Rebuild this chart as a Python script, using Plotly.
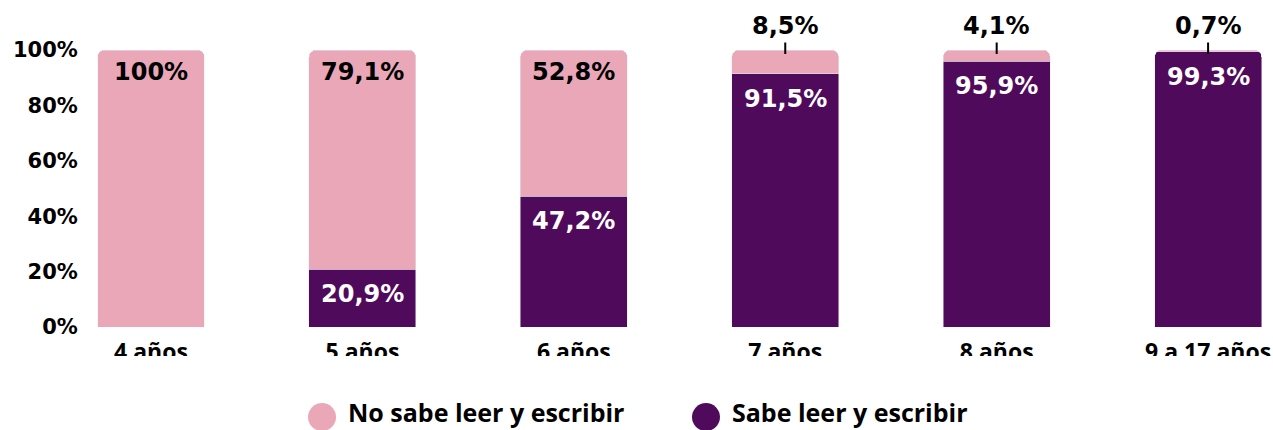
import plotly.graph_objects as go

categories = ["4 años", "5 años", "6 años", "7 años", "8 años", "9 a 17 años"]
sabe = [0.0, 20.9, 47.2, 91.5, 95.9, 99.3]
no_sabe = [100.0, 79.1, 52.8, 8.5, 4.1, 0.7]
series_names = ["No sabe leer y escribir", "Sabe leer y escribir"]
y_ticks = [0, 20, 40, 60, 80, 100]
y_ticktext = ["0%", "20%", "40%", "60%", "80%", "100%"]

PINK = "#E9A7B8"
PURPLE = "#500A5C"
NUM_FONT = "DejaVu Sans"
TXT_FONT = "Open Sans"


def fmt(v):
    if v == 100:
        return "100%"
    return f"{v:.1f}".replace(".", ",") + "%"


fig = go.Figure()
fig.add_trace(go.Bar(x=categories, y=sabe, marker_color=PURPLE, width=0.506,
                     name=series_names[1], showlegend=False, hoverinfo="skip"))
fig.add_trace(go.Bar(x=categories, y=no_sabe, marker_color=PINK, width=0.506,
                     name=series_names[0], showlegend=False, hoverinfo="skip"))

annotations = []
shapes = []
for c, s, n in zip(categories, sabe, no_sabe):
    if s > 0:
        annotations.append(dict(x=c, y=s, xref="x", yref="y", text=fmt(s), showarrow=False,
                                yanchor="middle", yshift=-25,
                                font=dict(family=NUM_FONT, size=24, color="white", weight="bold")))
    if n >= 20:
        annotations.append(dict(x=c, y=s + n, xref="x", yref="y", text=fmt(n), showarrow=False,
                                yanchor="middle", yshift=-22,
                                font=dict(family=NUM_FONT, size=24, color="black", weight="bold")))
    else:
        annotations.append(dict(x=c, y=s + n, xref="x", yref="y", text=fmt(n), showarrow=False,
                                yanchor="middle", yshift=24,
                                font=dict(family=NUM_FONT, size=24, color="black", weight="bold")))
        # leader line
        annotations.append(dict(x=c, y=s + n, xref="x", yref="y", text="", showarrow=True,
                                arrowhead=0, arrowwidth=2, arrowcolor="black",
                                ax=0, ay=-13, yshift=-4, standoff=0, startstandoff=0))

# mask clipping the category labels (as in the reference)
shapes.append(dict(type="rect", xref="paper", yref="paper", x0=-0.08, x1=1.0,
                   y0=-0.2563, y1=-0.1047, fillcolor="white", line=dict(width=0), layer="above"))

# custom legend with circular markers
legend_items = [(series_names[0], PINK, 0.1975, 0.2186), (series_names[1], PURPLE, 0.5215, 0.5426)]
for name, col, cx, tx in legend_items:
    shapes.append(dict(type="circle", xref="paper", yref="paper", xsizemode="pixel", ysizemode="pixel",
                       xanchor=cx, yanchor=-0.325, x0=-14, x1=14, y0=-14, y1=14,
                       fillcolor=col, line=dict(width=0)))
    annotations.append(dict(x=tx, y=-0.3718, xref="paper", yref="paper", text=name, showarrow=False,
                            xanchor="left", yanchor="bottom", borderpad=0,
                            font=dict(family=TXT_FONT, size=25, color="black", weight="bold")))

fig.update_layout(
    width=1273, height=430,
    margin=dict(l=88, r=0, t=50, b=103),
    barmode="stack",
    barcornerradius=7,
    plot_bgcolor="white", paper_bgcolor="white",
    showlegend=False,
    annotations=annotations,
    shapes=shapes,
    xaxis=dict(type="category", range=[-0.298, 5.307], showgrid=False, zeroline=False, showline=False,
               ticks="outside", ticklen=4, tickcolor="rgba(0,0,0,0)",
               tickfont=dict(family=TXT_FONT, size=23, color="black", weight="bold")),
    yaxis=dict(range=[0, 100], tickmode="array", tickvals=y_ticks, ticktext=y_ticktext,
               showgrid=False, zeroline=False,
               showline=False, ticks="outside", ticklen=5, tickcolor="rgba(0,0,0,0)",
               tickfont=dict(family=NUM_FONT, size=21, color="black", weight="bold")),
)

fig.write_html("out.html")
